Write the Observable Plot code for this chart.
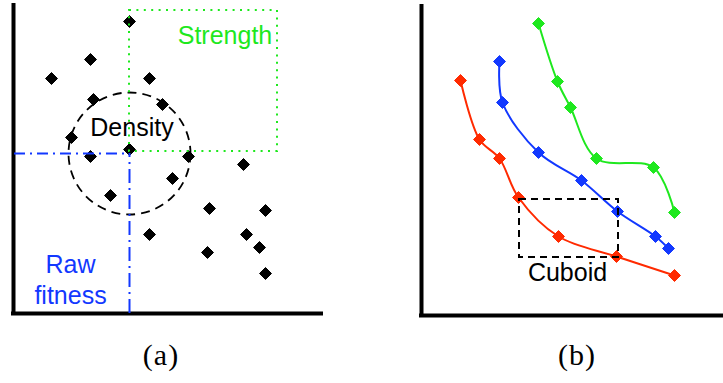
<!DOCTYPE html>
<html><head><meta charset="utf-8">
<script src="https://cdn.jsdelivr.net/npm/d3@7"></script>
<script src="https://cdn.jsdelivr.net/npm/@observablehq/plot@0.6"></script>
<style>
body{margin:0;background:#fff}
#wrap{position:relative;width:723px;height:383px;overflow:hidden;background:#fff}
#a{position:absolute;left:0;top:0}
#b{position:absolute;left:400px;top:0}
.cap{position:absolute;top:338px;width:80px;text-align:center;font-family:"Liberation Serif","DejaVu Serif",serif;font-size:30px;line-height:34px;color:#000;letter-spacing:1px}
</style></head>
<body>
<div id="wrap">
<div id="a"></div>
<div id="b"></div>
<div class="cap" style="left:121px">(a)</div>
<div class="cap" style="left:537px">(b)</div>
</div>
<script>
// Panel (a): population in objective space
const popX = [116, 77, 38, 136, 80, 149, 58, 116, 77, 175, 230, 159, 97, 196, 252, 136, 233, 194, 246, 252];
const popY = [292, 254, 235, 235, 214, 209, 176, 164, 157, 157, 149, 135, 118, 105, 103, 79, 79, 61, 66, 40];

// Panel (b): three fronts
const greenX = [117, 136, 149, 175, 232, 253];
const greenY = [292, 234, 208, 157, 148, 103];
const blueX = [78, 81, 117, 160, 196, 234, 247];
const blueY = [254, 213, 163, 135, 104, 79, 67];
const redX = [39, 58, 78, 97, 137, 195, 253];
const redY = [235, 176, 157, 118, 79, 59, 40];

const labelsA = ["Strength", "Density", "Raw", "fitness"];
const labelsB = ["Cuboid"];

const GREEN = "#1ee81e", BLUE = "#1238ff", RED = "#ff2a00";
const font = "Liberation Sans, Arial, sans-serif";

const pop = popX.map((x, i) => ({x, y: popY[i]}));
const fronts = [
  ...greenX.map((x, i) => ({x, y: greenY[i], s: "green"})),
  ...blueX.map((x, i) => ({x, y: blueY[i], s: "blue"})),
  ...redX.map((x, i) => ({x, y: redY[i], s: "red"}))
];
const colorOf = {green: GREEN, blue: BLUE, red: RED};

const plotA = Plot.plot({
  width: 340, height: 330,
  marginLeft: 13, marginRight: 17, marginTop: 3, marginBottom: 17,
  x: {domain: [0, 310], axis: null},
  y: {domain: [0, 310], axis: null},
  style: {fontFamily: font, background: "white"},
  marks: [
    Plot.ruleX([0], {y1: 0, y2: 310, stroke: "black", strokeWidth: 4}),
    Plot.ruleY([0], {x1: -2, x2: 310, stroke: "black", strokeWidth: 4}),
    Plot.dot(pop, {x: "x", y: "y", symbol: "diamond2", r: 5.4, fill: "black", stroke: "black", strokeWidth: 1}),
    Plot.dot([0], {x: 116, y: 160, r: 61, fill: "none", stroke: "black", strokeWidth: 1.8, strokeDasharray: "9,6"}),
    Plot.ruleY([0], {y: 160, x1: 1, x2: 116, stroke: BLUE, strokeWidth: 2, strokeDasharray: "11,5,2,5"}),
    Plot.ruleX([0], {x: 116, y1: 0, y2: 160, stroke: BLUE, strokeWidth: 2, strokeDasharray: "14,5,2,5"}),
    Plot.rect([0], {x1: 116, x2: 264, y1: 162, y2: 303, fill: "none", stroke: GREEN, strokeWidth: 2, strokeDasharray: "2,5.4"}),
    Plot.text([labelsA[0]], {x: 211.5, y: 270, text: d => d, fill: GREEN, fontSize: 25, lineAnchor: "bottom", textAnchor: "middle"}),
    Plot.text([labelsA[1]], {x: 118.5, y: 178, text: d => d, fill: "black", fontSize: 25, lineAnchor: "bottom", textAnchor: "middle"}),
    Plot.text([labelsA[2]], {x: 57, y: 41, text: d => d, fill: BLUE, fontSize: 25, lineAnchor: "bottom", textAnchor: "middle"}),
    Plot.text([labelsA[3]], {x: 57, y: 10, text: d => d, fill: BLUE, fontSize: 25, lineAnchor: "bottom", textAnchor: "middle"})
  ]
});
document.getElementById("a").append(plotA);

const plotB = Plot.plot({
  width: 323, height: 330,
  marginLeft: 21, marginRight: 0, marginTop: 4, marginBottom: 15,
  x: {domain: [0, 302], axis: null},
  y: {domain: [0, 311], axis: null},
  style: {fontFamily: font, background: "white"},
  marks: [
    Plot.ruleX([0], {y1: 0, y2: 311, stroke: "black", strokeWidth: 4}),
    Plot.ruleY([0], {x1: -2, x2: 302, stroke: "black", strokeWidth: 4}),
    Plot.line(fronts, {x: "x", y: "y", z: "s", stroke: d => colorOf[d.s], strokeWidth: 2, curve: "catmull-rom"}),
    Plot.dot(fronts, {x: "x", y: "y", symbol: "diamond2", r: 5.4, fill: d => colorOf[d.s], stroke: d => colorOf[d.s], strokeWidth: 1}),
    Plot.rect([0], {x1: 98, x2: 197, y1: 58, y2: 116, fill: "none", stroke: "black", strokeWidth: 2, strokeDasharray: "7,5"}),
    Plot.text(labelsB, {x: 146, y: 35, text: d => d, fill: "black", fontSize: 25, lineAnchor: "bottom", textAnchor: "middle"})
  ]
});
document.getElementById("b").append(plotB);
</script>
</body></html>
